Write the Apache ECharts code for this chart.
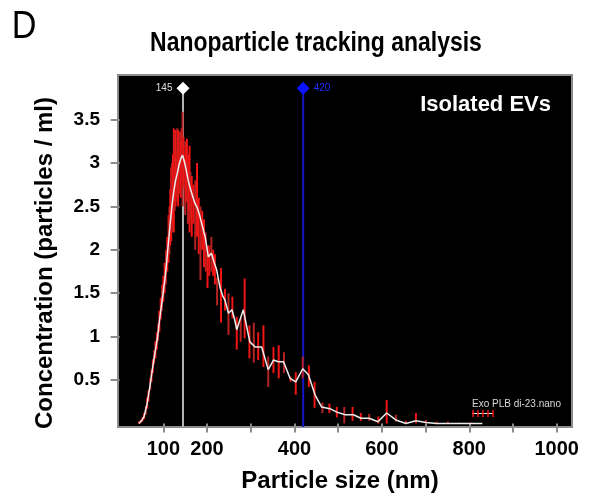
<!DOCTYPE html>
<html>
<head>
<meta charset="utf-8">
<script src="https://cdn.jsdelivr.net/npm/echarts@6/dist/echarts.min.js"></script>
<style>
  html, body { margin: 0; padding: 0; background: #fff; }
  #chart { width: 595px; height: 498px; }
</style>
</head>
<body>
<div id="chart"></div>
<script>
// Mean size distribution (nm, particles / ml)
const lineSize = [44, 50, 56, 63, 70, 76, 81, 87, 92, 99, 104, 108, 112, 116, 120, 124, 128, 132, 136, 140,
  144, 148, 152, 157, 162, 167, 172, 178, 184, 190, 196, 203, 210, 216, 222, 230, 236, 241, 249, 257,
  263, 268, 275, 283, 291, 298, 310, 325, 340, 352, 363, 375, 390, 403, 419, 432, 447, 462, 481, 497,
  516, 535, 552, 571, 591, 611, 632, 655, 678, 701, 725, 751, 776, 805, 830];
const lineConc = [0, 0.03, 0.08, 0.23, 0.45, 0.66, 0.82, 1.0, 1.22, 1.48, 1.68, 1.88, 2.1, 2.32, 2.52, 2.68, 2.8, 2.88, 2.98, 3.05,
  3.09, 3.02, 2.93, 2.8, 2.7, 2.62, 2.54, 2.48, 2.38, 2.26, 2.14, 1.92, 1.96, 1.86, 1.77, 1.56, 1.47, 1.42, 1.27, 1.31,
  1.2, 1.08, 1.19, 1.31, 1.11, 0.94, 0.88, 0.88, 0.62, 0.73, 0.71, 0.71, 0.52, 0.48, 0.63, 0.56, 0.33, 0.19, 0.17, 0.13,
  0.1, 0.1, 0.06, 0.06, 0.02, 0.12, 0.04, 0, 0.03, 0.01, 0, 0, 0, 0, 0];

// Error bars (nm, lower, upper)
const barSize = [44, 48, 52, 56, 60, 63, 66, 70, 73, 76, 79, 82, 85, 88, 91, 94, 97, 100, 103, 106,
  109, 112, 114, 116, 118, 120, 122, 124, 126, 128, 130, 132, 134, 136, 138, 140, 142, 144, 146, 148,
  150, 152, 154, 156, 158, 160, 162, 165, 169, 173, 177, 181, 185, 189, 193, 197, 201, 205, 210, 214,
  218, 223, 232, 241, 249, 258, 268, 277, 286, 297, 307, 317, 329, 340, 352, 364, 376, 391, 403, 419,
  433, 446, 464, 480, 497, 514, 533, 552, 571, 592, 611, 632, 655, 678, 701, 725, 751, 776, 805];
const barLow = [0, 0, 0.02, 0.05, 0.1, 0.17, 0.25, 0.38, 0.48, 0.58, 0.68, 0.75, 0.85, 0.95, 1.05, 1.2, 1.3, 1.4, 1.5, 1.6,
  1.75, 1.85, 1.95, 2.05, 2.1, 2.2, 2.3, 2.2, 2.45, 2.5, 2.6, 2.55, 2.5, 2.75, 2.65, 2.6, 2.8, 2.5, 2.75, 2.7,
  2.4, 2.55, 2.6, 2.3, 2.45, 2.2, 2.35, 2.15, 2.3, 2.0, 2.15, 1.95, 1.65, 2.0, 1.8, 1.75, 1.56, 1.7, 1.75, 1.7,
  1.6, 1.36, 1.16, 1.3, 1.02, 1.21, 0.85, 0.94, 0.98, 0.75, 0.7, 0.73, 0.65, 0.42, 0.58, 0.52, 0.58, 0.48, 0.33, 0.52,
  0.42, 0.18, 0.12, 0.12, 0.07, 0, 0.03, 0.03, 0.03, 0, 0, 0.02, 0, 0, 0, 0, 0, 0, 0];
const barHigh = [0.02, 0.04, 0.07, 0.12, 0.2, 0.3, 0.38, 0.52, 0.62, 0.74, 0.84, 0.95, 1.05, 1.15, 1.3, 1.45, 1.6, 1.7, 1.85, 2.0,
  2.15, 2.4, 2.5, 2.7, 2.95, 3.0, 3.1, 3.4, 3.35, 3.38, 3.15, 3.4, 3.38, 3.3, 3.36, 3.25, 3.4, 3.59, 3.3, 3.1,
  3.25, 3.2, 3.28, 3.0, 3.1, 3.2, 2.9, 2.85, 2.75, 2.8, 3.0, 2.6, 2.5, 2.45, 2.35, 2.2, 2.05, 2.05, 2.15, 2.0,
  1.95, 1.68, 1.79, 1.55, 1.5, 1.46, 1.23, 1.21, 1.67, 1.13, 1.16, 1.05, 1.13, 0.77, 0.88, 0.9, 0.82, 0.54, 0.59, 0.77,
  0.67, 0.48, 0.24, 0.23, 0.19, 0.19, 0.19, 0.12, 0.11, 0.08, 0.27, 0.1, 0.03, 0.12, 0.04, 0.02, 0.02, 0.01, 0.01];

// Reported mode / mean positions (nm)
const markerSizes = [145, 420];
const markerTop = 3.86;

// Axis ticks and labels
const xTicks = [100, 200, 300, 400, 500, 600, 700, 800, 900, 1000];
const xLabels = [100, 200, 400, 600, 800, 1000];
const yTicks = [0.5, 1, 1.5, 2, 2.5, 3, 3.5];

const FONT = 'Liberation Sans, Arial, Helvetica, sans-serif';
const X_MIN = -3.7, X_MAX = 1035, Y_MIN = -0.041, Y_MAX = 4.014;

const chart = echarts.init(document.getElementById('chart'), null, { renderer: 'canvas' });

function markerSeries(size, lineColor, symColor, labelColor, labelPos) {
  return {
    type: 'line',
    data: [
      { value: [size, Y_MIN], symbol: 'none' },
      {
        value: [size, markerTop], symbol: 'diamond', symbolSize: 13,
        label: {
          show: true, position: labelPos, distance: 4,
          formatter: p => String(p.value[0]),
          color: labelColor, fontSize: 10, fontFamily: FONT
        }
      }
    ],
    lineStyle: { color: lineColor, width: 2 },
    itemStyle: { color: symColor },
    showSymbol: true,
    silent: true,
    z: 3
  };
}

function txt(text, x, y, size, weight, color, align, extra) {
  return Object.assign({
    type: 'text', x: x, y: y, z: 10,
    style: {
      text: text, fontFamily: FONT, fontSize: size, fontWeight: weight,
      fill: color, textAlign: align, textVerticalAlign: 'middle'
    }
  }, extra || {});
}

const option = {
  animation: false,
  backgroundColor: '#ffffff',
  grid: {
    left: 118, right: 23, top: 75, bottom: 71,
    show: true, backgroundColor: '#000000',
    borderColor: '#8c8c8c', borderWidth: 2
  },
  xAxis: {
    type: 'value', min: X_MIN, max: X_MAX,
    axisLine: { show: false },
    splitLine: { show: false },
    axisTick: {
      show: true, length: 9, inside: false, customValues: xTicks,
      lineStyle: { color: '#8c8c8c', width: 2 }
    },
    axisLabel: {
      customValues: xLabels, margin: 12, formatter: v => String(v),
      fontFamily: FONT, fontWeight: 'bold', fontSize: 20, color: '#000'
    }
  },
  yAxis: {
    type: 'value', min: Y_MIN, max: Y_MAX,
    axisLine: { show: false },
    splitLine: { show: false },
    axisTick: {
      show: true, length: 9, inside: false, customValues: yTicks,
      lineStyle: { color: '#8c8c8c', width: 2 }
    },
    axisLabel: {
      customValues: yTicks, margin: 18, formatter: v => String(v),
      fontFamily: FONT, fontWeight: 'bold', fontSize: 19, color: '#000'
    }
  },
  series: [
    markerSeries(markerSizes[0], '#b4b4b4', '#ffffff', '#e0e0e0', 'left'),
    markerSeries(markerSizes[1], '#1414c8', '#0a14ff', '#1a2cff', 'right'),
    {
      // error bars
      type: 'custom',
      clip: true,
      encode: { x: 0, y: [1, 2] },
      data: barSize.map((s, i) => [s, barLow[i], barHigh[i]]),
      renderItem: function (params, api) {
        const x = api.value(0);
        const p1 = api.coord([x, api.value(1)]);
        const p2 = api.coord([x, api.value(2)]);
        const dark = params.dataIndex % 3 === 1;
        return {
          type: 'line',
          shape: { x1: p1[0], y1: p1[1], x2: p2[0], y2: p2[1] },
          style: { stroke: dark ? '#b42222' : '#f01414', lineWidth: 2 }
        };
      },
      z: 4
    },
    {
      // mean distribution
      type: 'line',
      data: lineSize.map((s, i) => [s, lineConc[i]]),
      showSymbol: false,
      lineStyle: { color: '#ececec', width: 1.5 },
      silent: true,
      z: 5
    }
  ],
  graphic: [
    txt('D', 24, 28, 38, 'normal', '#000', 'center', { scaleX: 0.9 }),
    txt('Nanoparticle tracking analysis', 316, 43, 28, 'bold', '#000', 'center', { scaleX: 0.82 }),
    txt('Particle size (nm)', 340, 481, 24, 'bold', '#000', 'center'),
    txt('Concentration (particles / ml)', 45, 263, 24, 'bold', '#000', 'center', { rotation: Math.PI / 2 }),
    txt('Isolated EVs', 551, 105, 22, 'bold', '#ffffff', 'right'),
    txt('Exo PLB di-23.nano', 472, 404, 10, 'normal', '#d8d8d8', 'left'),
    {
      type: 'group', z: 10,
      children: [
        { type: 'line', shape: { x1: 472, y1: 413.5, x2: 493, y2: 413.5 }, style: { stroke: '#e8e8e8', lineWidth: 1 } },
        { type: 'line', shape: { x1: 473, y1: 410, x2: 473, y2: 417 }, style: { stroke: '#f01414', lineWidth: 1.5 } },
        { type: 'line', shape: { x1: 478, y1: 410, x2: 478, y2: 417 }, style: { stroke: '#f01414', lineWidth: 1.5 } },
        { type: 'line', shape: { x1: 483, y1: 410, x2: 483, y2: 417 }, style: { stroke: '#f01414', lineWidth: 1.5 } },
        { type: 'line', shape: { x1: 488, y1: 410, x2: 488, y2: 417 }, style: { stroke: '#f01414', lineWidth: 1.5 } },
        { type: 'line', shape: { x1: 493, y1: 410, x2: 493, y2: 417 }, style: { stroke: '#f01414', lineWidth: 1.5 } }
      ]
    }
  ]
};

chart.setOption(option);
</script>
</body>
</html>
